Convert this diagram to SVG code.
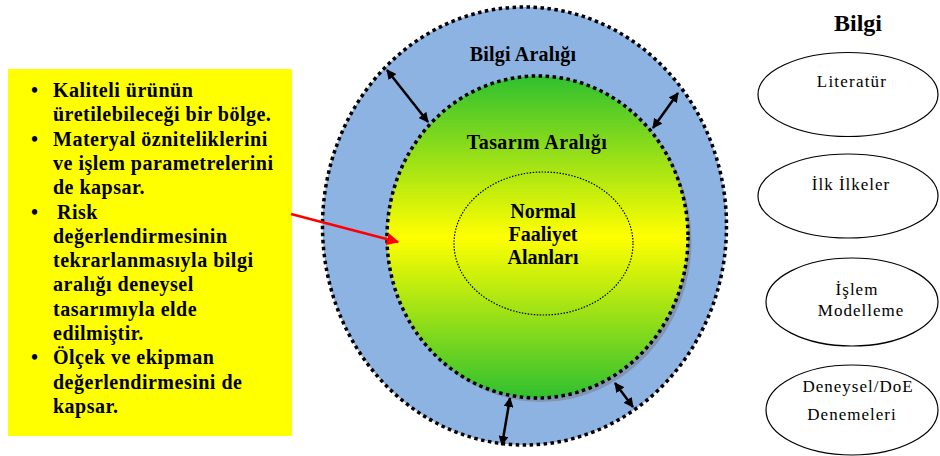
<svg xmlns="http://www.w3.org/2000/svg" width="940" height="456" viewBox="0 0 940 456">
<style>
.tb{font-family:'Liberation Serif','Times New Roman',serif;font-weight:bold;fill:#000}
.tn{font-family:'Liberation Serif','Times New Roman',serif;fill:#000}
.dotted{fill:none;stroke:#000;stroke-width:3.5;stroke-dasharray:3.5 3.5}
.src{fill:#fff;stroke:#000;stroke-width:1.2}
.dim{stroke:#000;stroke-width:2.5;fill:none;marker-start:url(#ah);marker-end:url(#ah)}
</style>
<defs>
<linearGradient id="gy" x1="0" y1="0" x2="0" y2="1">
<stop offset="0" stop-color="#2fc02f"/>
<stop offset="0.5" stop-color="#ffff00"/>
<stop offset="1" stop-color="#2fc02f"/>
</linearGradient>
<marker id="ah" viewBox="0 0 10 10" refX="9" refY="5" markerWidth="4" markerHeight="4" orient="auto-start-reverse">
<path d="M0,0 L10,5 L0,10 z" fill="#000"/>
</marker>
<marker id="rh" viewBox="0 0 10 10" refX="9" refY="5" markerWidth="5" markerHeight="5" orient="auto">
<path d="M0,0 L10,5 L0,10 z" fill="#ff0000"/>
</marker>
</defs>

<!-- outer knowledge space -->
<g id="bilgi-araligi">
<ellipse cx="524.5" cy="226" rx="202" ry="219" fill="#8db3e2"/>
<ellipse class="dotted" cx="524.5" cy="226" rx="202" ry="219"/>
<text class="tb" x="523" y="61" font-size="20" letter-spacing="0.2" text-anchor="middle">Bilgi Aralığı</text>
</g>

<!-- design space with drop shadow -->
<g id="tasarim-araligi">
<ellipse cx="541" cy="241" rx="150.5" ry="161" fill="#7f8fa6" opacity="0.8"/>
<ellipse cx="537.5" cy="237" rx="150.5" ry="161" fill="url(#gy)"/>
<ellipse class="dotted" cx="537.5" cy="237" rx="150.5" ry="161"/>
<text class="tb" x="537" y="149" font-size="20" letter-spacing="0.4" text-anchor="middle">Tasarım Aralığı</text>
</g>

<g id="normal-faaliyet">
<ellipse cx="543.5" cy="243.5" rx="89.5" ry="71.5" fill="none" stroke="#000" stroke-width="1.2" stroke-dasharray="1.5 1.5"/>
<text class="tb" font-size="20" text-anchor="middle"><tspan x="543" y="218">Normal</tspan><tspan x="543" y="241">Faaliyet</tspan><tspan x="543" y="264">Alanları</tspan></text>
</g>

<g id="aciklama">
<rect x="8" y="69" width="284" height="367" fill="#ffff00"/>
<text class="tb" font-size="20" letter-spacing="0.5">
<tspan x="31" y="97">•</tspan>
<tspan x="53" y="97">Kaliteli ürünün</tspan>
<tspan x="53" y="121.3">üretilebileceği bir bölge.</tspan>
<tspan x="31" y="145.6">•</tspan>
<tspan x="53" y="145.6">Materyal  özniteliklerini</tspan>
<tspan x="53" y="169.9">ve işlem parametrelerini</tspan>
<tspan x="53" y="194.2">de kapsar.</tspan>
<tspan x="31" y="218.5">•</tspan>
<tspan x="57" y="218.5">Risk</tspan>
<tspan x="53" y="242.8">değerlendirmesinin</tspan>
<tspan x="53" y="267.1">tekrarlanmasıyla bilgi</tspan>
<tspan x="53" y="291.4">aralığı deneysel</tspan>
<tspan x="53" y="315.7">tasarımıyla elde</tspan>
<tspan x="53" y="340">edilmiştir.</tspan>
<tspan x="31" y="364.3">•</tspan>
<tspan x="53" y="364.3">Ölçek ve ekipman</tspan>
<tspan x="53" y="388.6">değerlendirmesini de</tspan>
<tspan x="53" y="412.9">kapsar.</tspan>
</text>
</g>

<g id="connectors">
<line class="dim" x1="387" y1="70" x2="428" y2="122"/>
<line class="dim" x1="678" y1="93" x2="653" y2="128"/>
<line class="dim" x1="510" y1="398" x2="502" y2="445"/>
<line class="dim" x1="615" y1="383" x2="633" y2="407"/>
<line x1="291" y1="214" x2="398" y2="242" stroke="#ff0000" stroke-width="2.5" marker-end="url(#rh)"/>
</g>

<!-- knowledge sources -->
<g id="bilgi-baslik">
<text class="tb" x="858" y="31" font-size="24" text-anchor="middle">Bilgi</text>
</g>
<g id="literatur">
<ellipse class="src" cx="848" cy="94.5" rx="90" ry="42"/>
<text class="tn" x="852" y="87" font-size="17" letter-spacing="1.2" text-anchor="middle">Literatür</text>
</g>
<g id="ilk-ilkeler">
<ellipse class="src" cx="848" cy="196" rx="90" ry="42"/>
<text class="tn" x="851" y="190" font-size="17" letter-spacing="1" text-anchor="middle">İlk İlkeler</text>
</g>
<g id="islem-modelleme">
<ellipse class="src" cx="852" cy="302" rx="86" ry="44"/>
<text class="tn" font-size="17" letter-spacing="1" text-anchor="middle"><tspan x="857" y="295">İşlem</tspan><tspan x="861" y="316">Modelleme</tspan></text>
</g>
<g id="deneysel">
<ellipse class="src" cx="852" cy="410" rx="86" ry="45"/>
<text class="tn" font-size="17" letter-spacing="1" text-anchor="middle"><tspan x="858" y="392">Deneysel/DoE</tspan><tspan x="852" y="420">Denemeleri</tspan></text>
</g>
</svg>
